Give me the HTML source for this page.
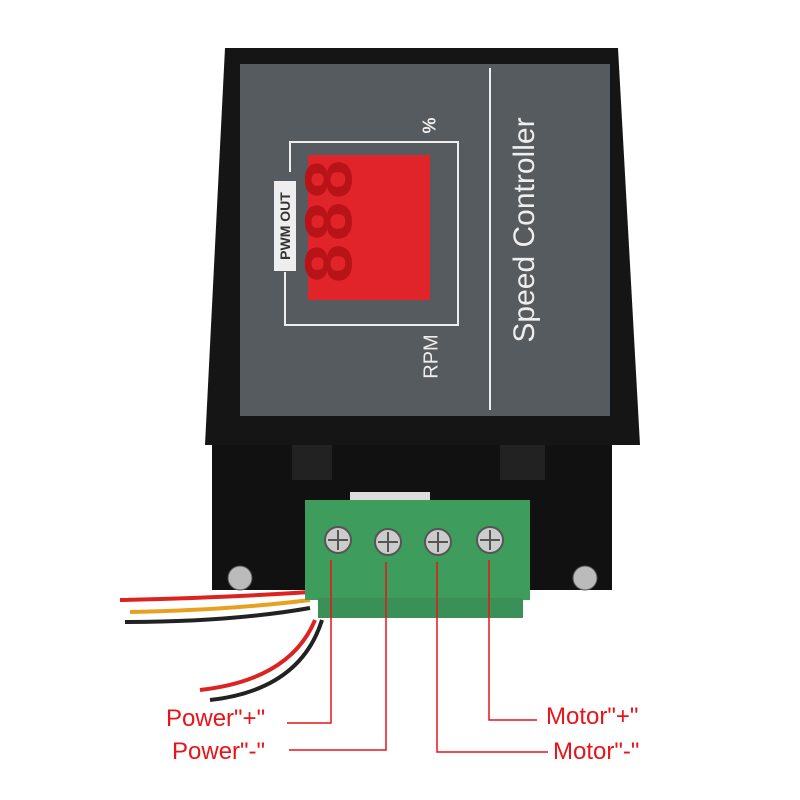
<!DOCTYPE html>
<html><head><meta charset="utf-8"><style>
body{margin:0;background:#fff;width:800px;height:800px;overflow:hidden;position:relative;font-family:"Liberation Sans",sans-serif}
.a{position:absolute}
.lbl{position:absolute;color:#e8141a;font-size:24px;white-space:nowrap;line-height:28px}
</style></head><body>
<svg class="a" style="left:0;top:0" width="800" height="800">
  <path d="M120 600 Q220 598 310 592" stroke="#d22" stroke-width="4" fill="none"/>
  <path d="M130 612 Q230 610 310 600" stroke="#e8a020" stroke-width="4" fill="none"/>
  <path d="M125 622 Q230 622 310 608" stroke="#222" stroke-width="4" fill="none"/>
  <path d="M200 690 Q290 680 315 620" stroke="#d22" stroke-width="4" fill="none"/>
  <path d="M210 700 Q300 690 322 620" stroke="#222" stroke-width="4" fill="none"/>
  <rect x="212" y="430" width="400" height="160" fill="#111"/>
  <rect x="292" y="440" width="40" height="40" fill="#222"/>
  <rect x="500" y="440" width="45" height="40" fill="#222"/>
  <path d="M225 48 L618 48 L640 445 L205 445 Z" fill="#151515"/>
  <rect x="240" y="64" width="370" height="352" fill="#565b5f"/>
  <line x1="490" y1="68" x2="490" y2="410" stroke="#eee" stroke-width="2"/>
  <path d="M290 172 L290 142 L458 142 L458 325 L285 325 L285 272" stroke="#eee" stroke-width="2" fill="none"/>
  <rect x="308" y="155" width="122" height="145" fill="#e0242a"/>
  <circle cx="240" cy="578" r="12" fill="#bbb" stroke="#555"/>
  <circle cx="585" cy="578" r="12" fill="#bbb" stroke="#555"/>
  <rect x="350" y="492" width="80" height="20" fill="#ddd"/>
  <rect x="305" y="500" width="225" height="100" fill="#3e9c5c"/>
  <rect x="318" y="598" width="205" height="20" fill="#3a9056"/>
  <g fill="#ccc" stroke="#555" stroke-width="2">
    <circle cx="338" cy="540" r="13"/><circle cx="388" cy="542" r="13"/>
    <circle cx="438" cy="542" r="13"/><circle cx="490" cy="540" r="13"/>
  </g>
  <g stroke="#555" stroke-width="2">
    <line x1="328" y1="540" x2="348" y2="540"/><line x1="338" y1="530" x2="338" y2="550"/>
    <line x1="378" y1="542" x2="398" y2="542"/><line x1="388" y1="532" x2="388" y2="552"/>
    <line x1="428" y1="542" x2="448" y2="542"/><line x1="438" y1="532" x2="438" y2="552"/>
    <line x1="480" y1="540" x2="500" y2="540"/><line x1="490" y1="530" x2="490" y2="550"/>
  </g>
  <g stroke="#e8141a" stroke-width="1.5" fill="none">
    <path d="M331 560 V723 H287"/>
    <path d="M386 562 V750 H289"/>
    <path d="M437 562 V752 H548"/>
    <path d="M489 560 V720 H537"/>
  </g>
</svg>
<div class="a" style="left:312px;top:160px;width:114px;height:135px;color:#b81418;font:bold 70px 'Liberation Mono',monospace;line-height:65px;text-align:center;transform:rotate(-90deg)">888</div>
<div class="a" style="left:240px;top:215px;width:90px;height:22px;background:#eee;color:#333;font-size:14px;font-weight:bold;text-align:center;line-height:22px;transform:rotate(-90deg)">PWM OUT</div>
<div class="a" style="left:410px;top:345px;color:#eee;font-size:20px;transform:rotate(-90deg)">RPM</div>
<div class="a" style="left:422px;top:115px;color:#eee;font-size:18px;font-weight:bold;transform:rotate(-90deg)">%</div>
<div class="a" style="left:405px;top:212px;width:240px;height:36px;color:#eee;font-size:30px;line-height:36px;white-space:nowrap;text-align:center;transform:rotate(-90deg)">Speed Controller</div>
<div class="lbl" style="left:166px;top:705px">Power"+"</div>
<div class="lbl" style="left:172px;top:738px">Power"-"</div>
<div class="lbl" style="left:546px;top:703px">Motor"+"</div>
<div class="lbl" style="left:553px;top:738px">Motor"-"</div>
</body></html>
